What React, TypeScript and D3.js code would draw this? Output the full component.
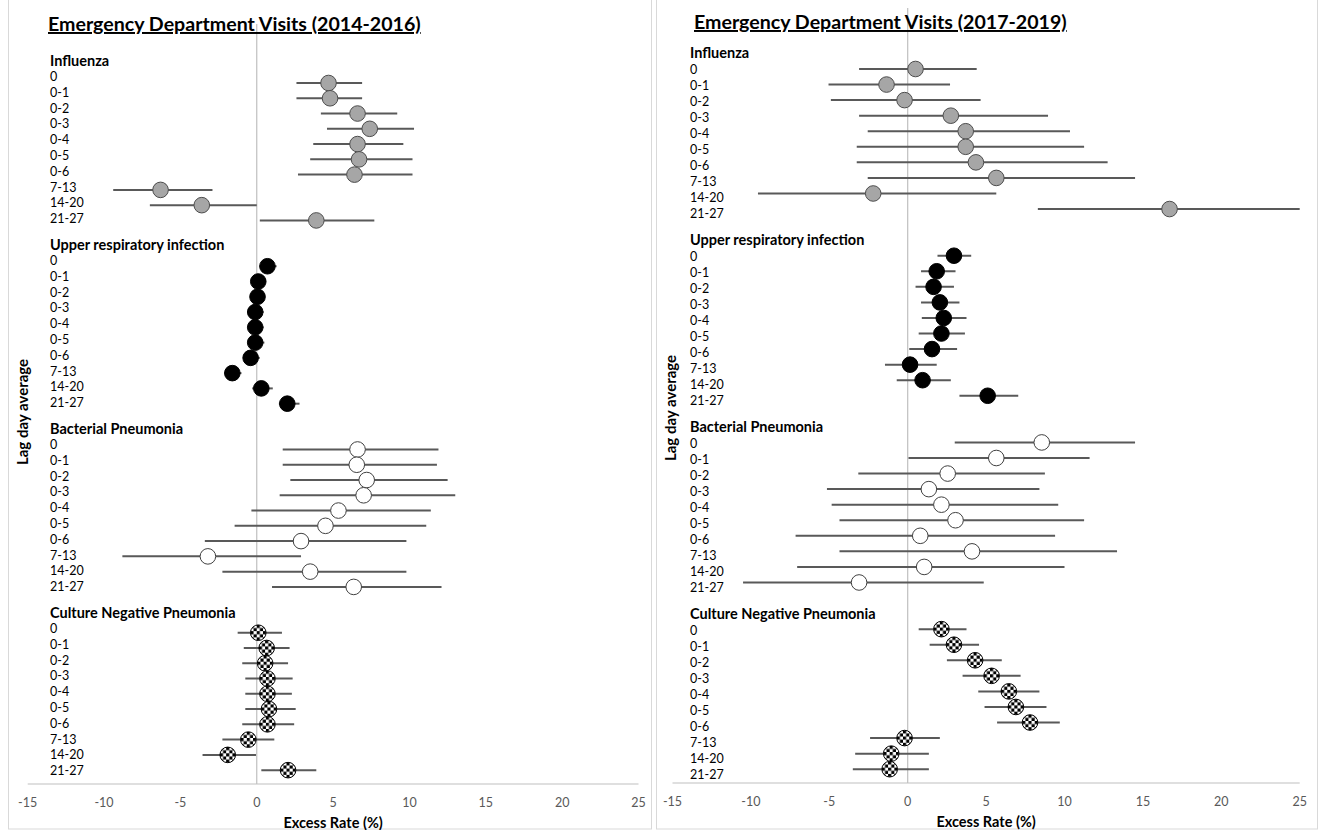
import React from "react";
import * as d3 from "d3";

type Row = [number, number, number]; // [estimate, lower CI, upper CI]

const lagLabels = ["0", "0-1", "0-2", "0-3", "0-4", "0-5", "0-6", "7-13", "14-20", "21-27"];
const diseaseNames = [
  "Influenza",
  "Upper respiratory infection",
  "Bacterial Pneumonia",
  "Culture Negative Pneumonia",
];
const xTickValues = [-15, -10, -5, 0, 5, 10, 15, 20, 25];

// 2014-2016
const influenza1416: Row[] = [
  [4.7, 2.6, 6.9], [4.8, 2.6, 6.9], [6.6, 4.2, 9.2], [7.4, 4.6, 10.3], [6.6, 3.7, 9.6],
  [6.7, 3.5, 10.2], [6.4, 2.7, 10.2], [-6.3, -9.4, -2.9], [-3.6, -7.0, 0.0], [3.9, 0.2, 7.7],
];
const uri1416: Row[] = [
  [0.7, 0.2, 1.3], [0.1, -0.3, 0.6], [0.05, -0.4, 0.55], [-0.1, -0.55, 0.45], [-0.1, -0.6, 0.45],
  [-0.1, -0.6, 0.5], [-0.4, -0.9, 0.2], [-1.6, -2.1, -1.0], [0.3, -0.3, 1.05], [2.0, 1.45, 2.8],
];
const bacterial1416: Row[] = [
  [6.6, 1.7, 11.9], [6.55, 1.7, 11.8], [7.2, 2.2, 12.5], [7.0, 1.5, 13.0], [5.35, -0.35, 11.4],
  [4.5, -1.45, 11.1], [2.9, -3.4, 9.8], [-3.2, -8.8, 2.9], [3.5, -2.25, 9.8], [6.35, 1.0, 12.1],
];
const cultureNeg1416: Row[] = [
  [0.1, -1.25, 1.65], [0.65, -0.85, 2.15], [0.55, -0.95, 2.05], [0.7, -0.75, 2.35], [0.7, -0.75, 2.3],
  [0.8, -0.75, 2.55], [0.7, -0.95, 2.45], [-0.55, -2.25, 1.15], [-1.9, -3.55, -0.05], [2.05, 0.3, 3.9],
];

// 2017-2019
const influenza1719: Row[] = [
  [0.5, -3.1, 4.4], [-1.35, -5.05, 2.7], [-0.2, -4.9, 4.65], [2.75, -3.1, 8.95], [3.7, -2.55, 10.35],
  [3.7, -3.25, 11.25], [4.35, -3.25, 12.75], [5.65, -2.55, 14.5], [-2.2, -9.55, 5.65], [16.7, 8.3, 25.0],
];
const uri1719: Row[] = [
  [2.95, 1.9, 4.05], [1.85, 0.85, 3.05], [1.65, 0.5, 2.95], [2.05, 0.85, 3.3], [2.3, 0.9, 3.75],
  [2.15, 0.7, 3.65], [1.55, 0.1, 3.15], [0.15, -1.45, 1.85], [0.95, -0.7, 2.75], [5.1, 3.3, 7.05],
];
const bacterial1719: Row[] = [
  [8.55, 3.0, 14.5], [5.65, 0.05, 11.6], [2.55, -3.15, 8.75], [1.35, -5.15, 8.4], [2.15, -4.85, 9.6],
  [3.05, -4.35, 11.25], [0.8, -7.15, 9.4], [4.1, -4.35, 13.35], [1.05, -7.05, 10.0], [-3.1, -10.5, 4.85],
];
const cultureNeg1719: Row[] = [
  [2.15, 0.7, 3.75], [2.95, 1.4, 4.55], [4.3, 2.5, 6.0], [5.35, 3.5, 7.2], [6.45, 4.5, 8.4],
  [6.9, 4.9, 8.85], [7.8, 5.7, 9.7], [-0.2, -2.4, 2.05], [-1.05, -3.35, 1.35], [-1.15, -3.5, 1.35],
];

const markerFill = ["#a6a6a6", "#000000", "#ffffff", "url(#checker)"];
const markerStroke = ["#4d4d4d", "#000000", "#404040", "#000000"];

const FONT = "Lato, 'Open Sans', sans-serif";

interface PanelCfg {
  title: string;
  groups: Row[][];
  left: number;
  right: number;
  xRange: [number, number];
  dotTop: number;
  dotStep: number;
  headerTop: number;
  headerPeriod: number;
  rowFirst: number;
  rowStep: number;
  textX: number;
  titleX: number;
  titleY: number;
  yTitleX: number;
  yTitleY: number;
  zeroTop: number;
  axisY: number;
}

const panels: PanelCfg[] = [
  {
    title: "Emergency Department Visits (2014-2016)",
    groups: [influenza1416, uri1416, bacterial1416, cultureNeg1416],
    left: 8,
    right: 651,
    xRange: [27.7, 638.5],
    dotTop: 83,
    dotStep: 15.27,
    headerTop: 60,
    headerPeriod: 184,
    rowFirst: 16.5,
    rowStep: 15.8,
    textX: 50,
    titleX: 48,
    titleY: 31,
    yTitleX: 22,
    yTitleY: 412,
    zeroTop: 24,
    axisY: 784,
  },
  {
    title: "Emergency Department Visits (2017-2019)",
    groups: [influenza1719, uri1719, bacterial1719, cultureNeg1719],
    left: 656,
    right: 1317,
    xRange: [672.5, 1299.7],
    dotTop: 69,
    dotStep: 15.56,
    headerTop: 52,
    headerPeriod: 187,
    rowFirst: 17,
    rowStep: 16,
    textX: 690,
    titleX: 694,
    titleY: 29,
    yTitleX: 670,
    yTitleY: 408,
    zeroTop: 8,
    axisY: 783,
  },
];

function Panel({ cfg }: { cfg: PanelCfg }) {
  const x = d3.scaleLinear().domain([-15, 25]).range(cfg.xRange);
  const dotY = d3.scaleLinear().domain([0, 1]).range([cfg.dotTop, cfg.dotTop + cfg.dotStep]);
  const headerY = d3.scaleLinear().domain([0, 1]).range([cfg.headerTop, cfg.headerTop + cfg.headerPeriod]);
  const rowY = (g: number, r: number) => headerY(g) + cfg.rowFirst + r * cfg.rowStep;
  const [x0, x1] = x.range();
  return (
    <g>
      <rect
        x={cfg.left + 0.5}
        y={-1}
        width={cfg.right - cfg.left}
        height={830}
        fill="#ffffff"
        stroke="#d9d9d9"
        strokeWidth={1}
      />
      {/* zero reference line */}
      <line x1={x(0)} x2={x(0)} y1={cfg.zeroTop} y2={cfg.axisY} stroke="#bfbfbf" strokeWidth={1.2} />
      {/* x axis */}
      <line x1={x0} x2={x1} y1={cfg.axisY} y2={cfg.axisY} stroke="#bfbfbf" strokeWidth={1.2} />
      {xTickValues.map((t) => (
        <text
          key={t}
          x={x(t)}
          y={cfg.axisY + 18}
          textAnchor="middle"
          dominantBaseline="central"
          fontFamily={FONT}
          fontSize={12.5}
          fill="#595959"
        >
          {t}
        </text>
      ))}
      <text
        x={x(5)}
        y={cfg.axisY + 38}
        textAnchor="middle"
        dominantBaseline="central"
        fontFamily={FONT}
        fontSize={14.5}
        fontWeight="bold"
        fill="#000"
      >
        Excess Rate (%)
      </text>
      {/* y axis title */}
      <text
        transform={`translate(${cfg.yTitleX},${cfg.yTitleY}) rotate(-90)`}
        textAnchor="middle"
        dominantBaseline="central"
        fontFamily={FONT}
        fontSize={15}
        fontWeight="bold"
        fill="#000"
      >
        Lag day average
      </text>
      {/* title */}
      <text
        x={cfg.titleX}
        y={cfg.titleY}
        fontFamily={FONT}
        fontSize={19.6}
        fontWeight="bold"
        fill="#000"
        style={{ textDecoration: "underline" }}
      >
        {cfg.title}
      </text>
      {/* group headers and lag labels */}
      {diseaseNames.map((name, g) => (
        <g key={name}>
          <text
            x={cfg.textX}
            y={headerY(g)}
            dominantBaseline="central"
            fontFamily={FONT}
            fontSize={14.5}
            fontWeight="bold"
            fill="#000"
          >
            {name}
          </text>
          {lagLabels.map((lab, r) => (
            <text
              key={lab}
              x={cfg.textX}
              y={rowY(g, r)}
              dominantBaseline="central"
              fontFamily={FONT}
              fontSize={12.5}
              fill="#000"
            >
              {lab}
            </text>
          ))}
        </g>
      ))}
      {/* error bars */}
      {cfg.groups.map((rows, g) =>
        rows.map((d, r) => (
          <line
            key={`e${g}-${r}`}
            x1={x(d[1])}
            x2={x(d[2])}
            y1={dotY(g * 12 + r)}
            y2={dotY(g * 12 + r)}
            stroke="#595959"
            strokeWidth={2}
          />
        ))
      )}
      {/* markers */}
      {cfg.groups.map((rows, g) =>
        rows.map((d, r) => (
          <circle
            key={`m${g}-${r}`}
            cx={x(d[0])}
            cy={dotY(g * 12 + r)}
            r={7.8}
            fill={markerFill[g]}
            stroke={markerStroke[g]}
            strokeWidth={1}
          />
        ))
      )}
    </g>
  );
}

export default function App() {
  return (
    <svg
      width={1318}
      height={830}
      style={{ position: "absolute", left: 0, top: 0, background: "#fff" }}
    >
      <defs>
        <pattern
          id="checker"
          patternUnits="objectBoundingBox"
          patternContentUnits="objectBoundingBox"
          width={0.4}
          height={0.4}
        >
          <rect x={0} y={0} width={0.4} height={0.4} fill="#ffffff" />
          <rect x={0} y={0} width={0.2} height={0.2} fill="#000000" />
          <rect x={0.2} y={0.2} width={0.2} height={0.2} fill="#000000" />
        </pattern>
      </defs>
      {panels.map((p) => (
        <Panel key={p.title} cfg={p} />
      ))}
    </svg>
  );
}
